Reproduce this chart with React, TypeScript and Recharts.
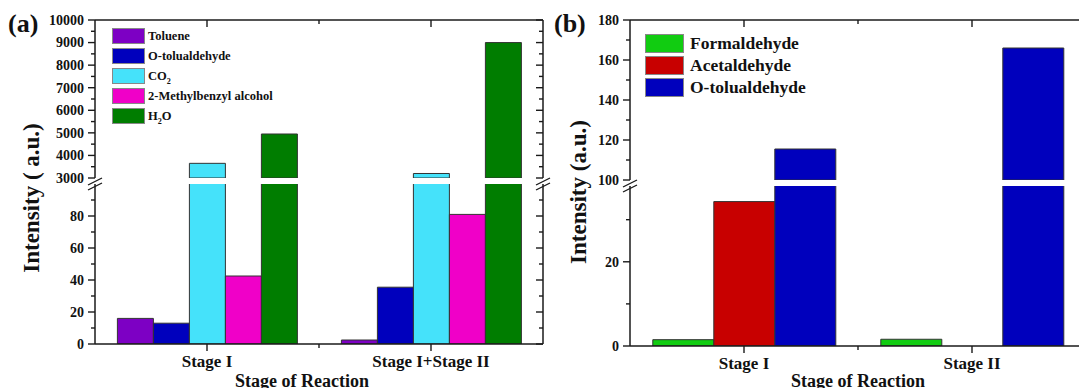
import React from 'react';
import { Bar, BarChart, Legend, XAxis, YAxis } from 'recharts';

// panel (a)
const stagesA = ['Stage I', 'Stage I+Stage II'];
const toluene = [16, 2.5];
const oTolualdehydeA = [13, 35.5];
const co2 = [3650, 3200];
const methylbenzylAlcohol = [42.5, 81];
const water = [4950, 9000];
const upperTicksA = [3000, 3500, 4000, 4500, 5000, 5500, 6000, 6500, 7000, 7500, 8000, 8500, 9000, 9500, 10000];
const lowerTicksA = [0, 10, 20, 30, 40, 50, 60, 70, 80, 90];

// panel (b)
const stagesB = ['Stage I', 'Stage II'];
const formaldehyde = [1.5, 1.6];
const acetaldehyde = [34.3, 0];
const oTolualdehydeB = [115.5, 166];
const upperTicksB = [100, 110, 120, 130, 140, 150, 160, 170, 180];
const lowerTicksB = [0, 10, 20, 30];

const seriesA = [
  { key: 'toluene', name: 'Toluene', color: '#7d00c4' },
  { key: 'oTolualdehyde', name: 'O-tolualdehyde', color: '#0000bd' },
  { key: 'co2', name: 'CO2', color: '#45e2fa' },
  { key: 'methylbenzylAlcohol', name: '2-Methylbenzyl alcohol', color: '#f000c8' },
  { key: 'water', name: 'H2O', color: '#007d00' },
];
const seriesB = [
  { key: 'formaldehyde', name: 'Formaldehyde', color: '#11cc11' },
  { key: 'acetaldehyde', name: 'Acetaldehyde', color: '#c80000' },
  { key: 'oTolualdehyde', name: 'O-tolualdehyde', color: '#0000bd' },
];

const rowsA = stagesA.map((stage, i) => ({
  stage,
  toluene: toluene[i],
  oTolualdehyde: oTolualdehydeA[i],
  co2: co2[i],
  methylbenzylAlcohol: methylbenzylAlcohol[i],
  water: water[i],
}));
const rowsB = stagesB.map((stage, i) => ({
  stage,
  formaldehyde: formaldehyde[i],
  acetaldehyde: acetaldehyde[i],
  oTolualdehyde: oTolualdehydeB[i],
}));

const FONT = '"Liberation Serif", "Times New Roman", serif';
const INK = '#111';
const LINE = '#1a1a1a';

// ticks point left on both y axes (outward on the left, inward on the right)
const yTick = (step: number, withLabel: boolean) => (props: any) => {
  const { x, y, payload } = props;
  const v = payload.value as number;
  const major = v % step === 0;
  return (
    <g>
      <line x1={x} x2={x - (major ? 7 : 4)} y1={y} y2={y} stroke={LINE} strokeWidth={1.4} />
      {withLabel && major && (
        <text x={x - 11} y={y} dy="0.35em" textAnchor="end" fontSize={14} fontWeight={700} fill={INK} fontFamily={FONT}>
          {v}
        </text>
      )}
    </g>
  );
};

// ticks point down on both x axes; a short one marks the border between stages
const xTick = (count: number, withLabel: boolean) => (props: any) => {
  const { x, y, payload, index } = props;
  const half = Number(payload.offset) || 0;
  return (
    <g>
      <line x1={x} x2={x} y1={y} y2={y + 7} stroke={LINE} strokeWidth={1.4} />
      {index < count - 1 && half > 0 && (
        <line x1={x + half} x2={x + half} y1={y} y2={y + 4} stroke={LINE} strokeWidth={1.4} />
      )}
      {withLabel && (
        <text x={x} y={y + 23} textAnchor="middle" fontSize={17} fontWeight={700} fill={INK} fontFamily={FONT}>
          {payload.value}
        </text>
      )}
    </g>
  );
};

function withSubscripts(name: string) {
  return name
    .split(/(\d)/)
    .filter(Boolean)
    .map((part, i) =>
      /\d/.test(part) && i > 0 ? (
        <sub key={i} style={{ fontSize: '0.65em', lineHeight: 0 }}>
          {part}
        </sub>
      ) : (
        <span key={i}>{part}</span>
      ),
    );
}

const legendContent =
  (series: typeof seriesA, boxW: number, boxH: number, gap: number, fontSize: number, textGap: number) => () => (
    <div style={{ fontFamily: FONT, fontWeight: 700, color: INK }}>
      {series.map((s) => (
        <div key={s.key} style={{ display: 'flex', alignItems: 'center', height: boxH, marginBottom: gap }}>
          <span
            style={{
              width: boxW,
              height: boxH,
              background: s.color,
              border: '1px solid #888',
              boxSizing: 'border-box',
              flex: 'none',
            }}
          />
          <span style={{ marginLeft: textGap, fontSize, whiteSpace: 'nowrap' }}>{withSubscripts(s.name)}</span>
        </div>
      ))}
    </div>
  );

interface HalfProps {
  rows: any[];
  series: typeof seriesA;
  part: 'upper' | 'lower';
  width: number;
  height: number;
  axisHeight: number;
  leftWidth: number;
  rightWidth: number;
  domain: [number, number];
  ticks: number[];
  step: number;
  titleDx?: number;
  legend?: React.ReactNode;
}

function Half(p: HalfProps) {
  const upper = p.part === 'upper';
  // the upper half only shows the bars that reach above the break
  const rows = upper
    ? p.rows.map((r) => {
        const out: any = { stage: r.stage };
        p.series.forEach((s) => {
          out[s.key] = r[s.key] > p.domain[0] ? r[s.key] : null;
        });
        return out;
      })
    : p.rows;
  const title = upper
    ? undefined
    : {
        value: 'Stage of Reaction',
        position: 'insideBottom' as const,
        offset: 1,
        dx: p.titleDx ?? 0,
        fill: INK,
        fontSize: 18,
        fontWeight: 700,
        fontFamily: FONT,
      };
  return (
    <BarChart
      width={p.width}
      height={p.height}
      data={rows}
      margin={{ top: 0, right: 0, bottom: upper ? 12 : 0, left: 0 }}
      barCategoryGap="10%"
      barGap={0}
    >
      <XAxis
        xAxisId="cat"
        dataKey="stage"
        orientation={upper ? 'top' : 'bottom'}
        height={p.axisHeight}
        interval={0}
        tickSize={0}
        tickMargin={0}
        tickLine={false}
        axisLine={{ stroke: LINE, strokeWidth: 1.5 }}
        tick={xTick(rows.length, !upper)}
        {...(title ? { label: title } : {})}
      />
      <YAxis
        yAxisId="left"
        width={p.leftWidth}
        domain={p.domain}
        ticks={p.ticks}
        allowDataOverflow
        interval={0}
        tickSize={0}
        tickMargin={0}
        tickLine={false}
        axisLine={{ stroke: LINE, strokeWidth: 1.5 }}
        tick={yTick(p.step, true)}
      />
      <YAxis
        yAxisId="right"
        orientation="right"
        width={p.rightWidth}
        domain={p.domain}
        ticks={p.ticks}
        allowDataOverflow
        interval={0}
        tickSize={0}
        tickMargin={0}
        tickLine={false}
        axisLine={{ stroke: LINE, strokeWidth: 1.5 }}
        tick={yTick(p.step, false)}
      />
      {p.series.map((s) => (
        <Bar
          key={s.key}
          xAxisId="cat"
          yAxisId="left"
          dataKey={s.key}
          name={s.name}
          fill={s.color}
          stroke="#333"
          strokeWidth={1}
          isAnimationActive={false}
        />
      ))}
      {p.legend}
    </BarChart>
  );
}

const breakMark = (x: number, y: number) => (
  <g key={`${x}-${y}`} stroke={LINE} strokeWidth={1.3}>
    <line x1={x - 7} y1={y + 1} x2={x + 7} y2={y - 6} />
    <line x1={x - 7} y1={y + 6} x2={x + 7} y2={y - 1} />
  </g>
);

export default function App() {
  return (
    <div
      style={{
        position: 'absolute',
        left: 0,
        top: 0,
        width: 1079,
        height: 388,
        overflow: 'hidden',
        background: '#fff',
        fontFamily: FONT,
      }}
    >
      {/* panel (a) */}
      <div style={{ position: 'absolute', left: 0, top: 184 }}>
        <Half
          rows={rowsA}
          series={seriesA}
          part="lower"
          width={560}
          height={204}
          axisHeight={44}
          leftWidth={95}
          rightWidth={17}
          domain={[0, 100]}
          ticks={lowerTicksA}
          step={20}
          titleDx={-17}
        />
      </div>
      <div style={{ position: 'absolute', left: 0, top: 0 }}>
        <Half
          rows={rowsA}
          series={seriesA}
          part="upper"
          width={560}
          height={190}
          axisHeight={20}
          leftWidth={95}
          rightWidth={17}
          domain={[3000, 10000]}
          ticks={upperTicksA}
          step={1000}
          legend={
            <Legend
              layout="vertical"
              align="center"
              verticalAlign="middle"
              wrapperStyle={{ left: 112, top: 28, width: 'auto' }}
              content={legendContent(seriesA, 33, 16, 4, 12.5, 3)}
            />
          }
        />
      </div>

      {/* panel (b) */}
      <div style={{ position: 'absolute', left: 540, top: 186 }}>
        <Half
          rows={rowsB}
          series={seriesB}
          part="lower"
          width={560}
          height={202}
          axisHeight={42}
          leftWidth={90}
          rightWidth={14}
          domain={[0, 38]}
          ticks={lowerTicksB}
          step={20}
        />
      </div>
      <div style={{ position: 'absolute', left: 540, top: 0 }}>
        <Half
          rows={rowsB}
          series={seriesB}
          part="upper"
          width={560}
          height={192}
          axisHeight={20}
          leftWidth={90}
          rightWidth={14}
          domain={[100, 180]}
          ticks={upperTicksB}
          step={20}
          legend={
            <Legend
              layout="vertical"
              align="center"
              verticalAlign="middle"
              wrapperStyle={{ left: 105, top: 34, width: 'auto' }}
              content={legendContent(seriesB, 39, 19, 3, 17.5, 6)}
            />
          }
        />
      </div>

      <svg
        width={1079}
        height={388}
        style={{ position: 'absolute', left: 0, top: 0, pointerEvents: 'none' }}
        fontFamily={FONT}
        fontWeight={700}
        fill={INK}
      >
        <text x={8} y={32} fontSize={26}>
          (a)
        </text>
        <text x={554} y={32} fontSize={26}>
          (b)
        </text>
        <text transform="translate(31,198) rotate(-90)" textAnchor="middle" dominantBaseline="central" fontSize={23}>
          Intensity ( a.u.)
        </text>
        <text transform="translate(578,192) rotate(-90)" textAnchor="middle" dominantBaseline="central" fontSize={23}>
          Intensity (a.u.)
        </text>
        {[breakMark(95, 184), breakMark(543, 184), breakMark(630, 186)]}
      </svg>
    </div>
  );
}
